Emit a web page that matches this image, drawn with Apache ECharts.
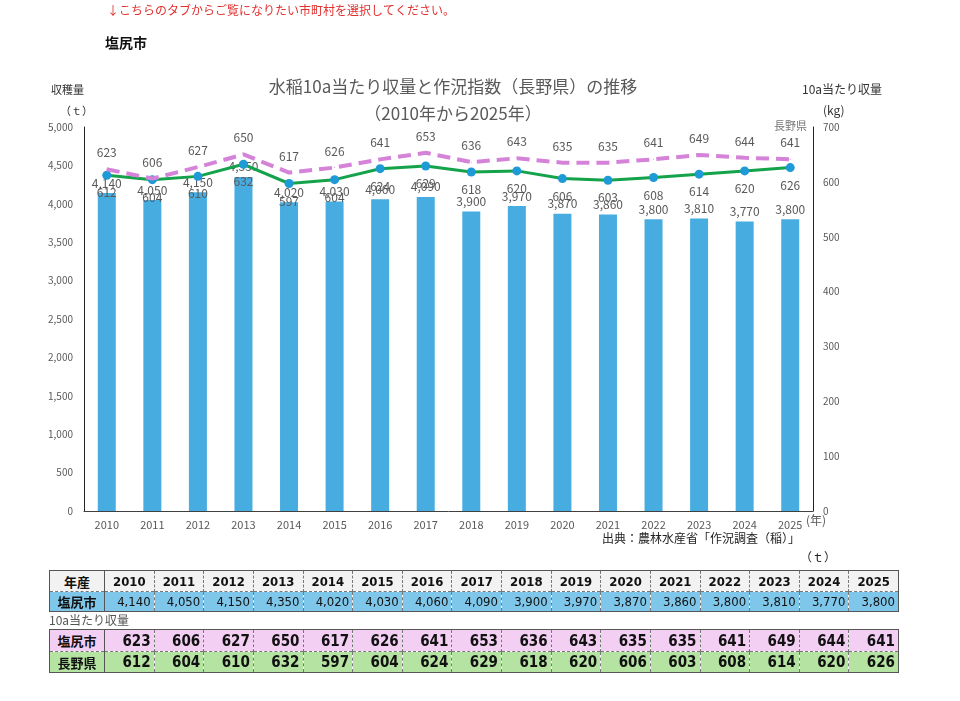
<!DOCTYPE html>
<html>
<head>
<meta charset="utf-8">
<script src="https://cdn.jsdelivr.net/npm/echarts@6/dist/echarts.min.js"></script>
<style>
  body { margin: 0; background: #fff; }
  #wrap { position: relative; width: 960px; height: 701px; font-family: "Noto Sans CJK JP", sans-serif; }
  #main { position: absolute; left: 0; top: 0; width: 960px; height: 701px; }
  table { position: absolute; border-collapse: collapse; table-layout: fixed; border: 1px solid #555; }
  td { padding: 0 3px; border-left: 1px dashed #777; font-family: "Liberation Sans Narrow", "DejaVu Sans Condensed", "Noto Sans CJK JP", sans-serif; color: #111; white-space: nowrap; overflow: hidden; }
  td.h { border-left: none; border-right: 1px solid #555; text-align: center; font-family: "Noto Sans CJK JP", sans-serif; font-weight: bold; }
  .note { position: absolute; font-size: 12px; color: #555; }
</style>
</head>
<body>
<div id="wrap">
  <div id="main"></div>
  <table id="t1" style="left:49px; top:570px; width:850px;"></table>
  <div class="note" style="left:49px; top:611px;">10a当たり収量</div>
  <table id="t2" style="left:49px; top:629px; width:850px;"></table>
</div>
<script>
// 年
var years = ['2010','2011','2012','2013','2014','2015','2016','2017','2018','2019','2020','2021','2022','2023','2024','2025'];
// 収穫量（t）塩尻市
var harvest = [4140,4050,4150,4350,4020,4030,4060,4090,3900,3970,3870,3860,3800,3810,3770,3800];
// 10a当たり収量（kg）
var yieldCity = [623,606,627,650,617,626,641,653,636,643,635,635,641,649,644,641];
var yieldPref = [612,604,610,632,597,604,624,629,618,620,606,603,608,614,620,626];

function fmt(n) {
  return String(n).replace(/\B(?=(\d{3})+(?!\d))/g, ',');
}

// 表を作る
function row(label, vals, bg, opt) {
  var h = '<tr style="background:' + bg + ';height:' + opt.h + 'px;' + (opt.bottom || '') + '">';
  h += '<td class="h" style="width:48px;font-size:13px;">' + label + '</td>';
  vals.forEach(function (v) {
    h += '<td style="text-align:' + (opt.align || 'right') + ';font-size:' + opt.fs + 'px;font-weight:' + (opt.bold ? 'bold' : 'normal') + ';">' + v + '</td>';
  });
  return h + '</tr>';
}
document.getElementById('t1').innerHTML =
  row('年産', years, '#f2f2f2', {h: 21, fs: 13, bold: true, align: 'center', bottom: 'border-bottom:1px dashed #777;'}) +
  row('塩尻市', harvest.map(fmt), '#7fc7ea', {h: 19, fs: 13});
document.getElementById('t2').innerHTML =
  row('塩尻市', yieldCity, '#f3cff3', {h: 22, fs: 15, bold: true, bottom: 'border-bottom:1px dashed #777;'}) +
  row('長野県', yieldPref, '#b5e3a1', {h: 21, fs: 15, bold: true});

var chart = echarts.init(document.getElementById('main'));
var gray = '#595959';
var option = {
  textStyle: { fontFamily: 'Noto Sans CJK JP' },
  title: {
    text: '水稲10a当たり収量と作況指数（長野県）の推移\n（2010年から2025年）',
    left: 448, top: 68, textAlign: 'center',
    textStyle: { fontSize: 17, fontWeight: 'normal', color: gray, lineHeight: 27 }
  },
  grid: { left: 84, right: 147, top: 127, bottom: 190 },
  xAxis: {
    type: 'category',
    data: years,
    axisLine: { lineStyle: { color: '#404040' } },
    axisTick: { show: false },
    axisLabel: { color: gray, fontSize: 11, margin: 8 }
  },
  yAxis: [{
    type: 'value', min: 0, max: 5000, interval: 500,
    axisLine: { show: true, lineStyle: { color: '#222' } },
    axisTick: { show: false },
    splitLine: { show: false },
    axisLabel: { color: gray, fontSize: 10, margin: 11, formatter: fmt }
  }, {
    type: 'value', min: 0, max: 700, interval: 100,
    axisLine: { show: true, lineStyle: { color: '#222' } },
    axisTick: { show: false },
    splitLine: { show: false },
    axisLabel: { color: gray, fontSize: 10, margin: 10 }
  }],
  series: [{
    name: '収穫量',
    type: 'bar',
    data: harvest,
    barWidth: 18,
    itemStyle: { color: '#47ade0' },
    label: { show: true, position: 'top', distance: 4, color: gray, fontSize: 12, formatter: function (p) { return fmt(p.value); } },
    z: 2
  }, {
    name: '長野県',
    type: 'line',
    yAxisIndex: 1,
    data: yieldPref,
    symbol: 'circle', symbolSize: 9,
    itemStyle: { color: '#1e9ad6' },
    lineStyle: { color: '#14a24b', width: 3 },
    label: { show: true, position: 'bottom', distance: 7, color: gray, fontSize: 12 },
    z: 3
  }, {
    name: '塩尻市',
    type: 'line',
    yAxisIndex: 1,
    data: yieldCity,
    symbol: 'circle', symbolSize: 1,
    itemStyle: { color: '#d583d8' },
    lineStyle: { color: '#d583d8', width: 4, type: [13, 7] },
    label: { show: true, position: 'top', distance: 10, color: gray, fontSize: 12 },
    z: 4
  }],
  graphic: [
    { type: 'text', left: 107, top: 4, style: { text: '↓こちらのタブからご覧になりたい市町村を選択してください。', fill: '#e0312f', font: '12px "Noto Sans CJK JP"' } },
    { type: 'text', left: 105, top: 36, style: { text: '塩尻市', fill: '#111', font: 'bold 14px "Noto Sans CJK JP"' } },
    { type: 'text', left: 51, top: 84, style: { text: '収穫量', fill: '#333', font: '11px "Noto Sans CJK JP"' } },
    { type: 'text', left: 60, top: 105, style: { text: '（ｔ）', fill: '#333', font: '11px "Noto Sans CJK JP"' } },
    { type: 'text', left: 802, top: 83, style: { text: '10a当たり収量', fill: '#333', font: '12px "Noto Sans CJK JP"' } },
    { type: 'text', left: 823, top: 104, style: { text: '(kg)', fill: '#333', font: '12px "Noto Sans CJK JP"' } },
    { type: 'text', left: 774, top: 120, style: { text: '長野県', fill: '#777', font: '11px "Noto Sans CJK JP"' } },
    { type: 'text', left: 806, top: 514, style: { text: '(年)', fill: gray, font: '12px "Noto Sans CJK JP"' } },
    { type: 'text', left: 602, top: 532, style: { text: '出典：農林水産省「作況調査（稲）」', fill: '#222', font: '12px "Noto Sans CJK JP"' } },
    { type: 'text', left: 800, top: 551, style: { text: '（ｔ）', fill: '#222', font: '12px "Noto Sans CJK JP"' } }
  ]
};
chart.setOption(option);
</script>
</body>
</html>
